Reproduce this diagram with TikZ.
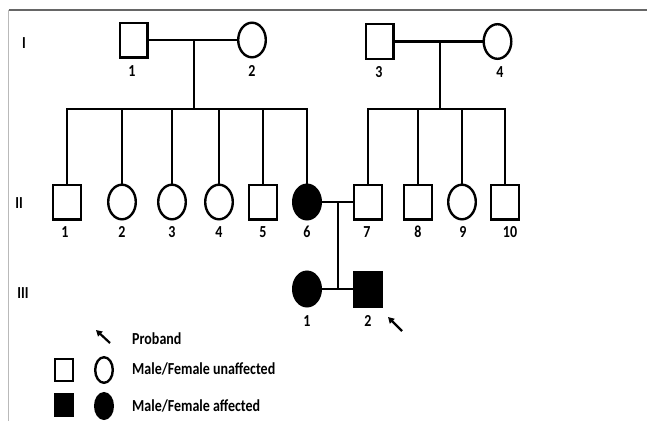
\documentclass[tikz,border=0pt]{standalone}
\usepackage{fontspec}
\setmainfont{Carlito}
\usetikzlibrary{arrows.meta, shapes.geometric}

\newcommand{\tallbox}[1]{\scalebox{1}[1.2]{#1}}

\tikzset{
    person/.style = {draw, line width=2.4pt, inner sep=0pt, minimum width=27.6pt, minimum height=34.6pt},
    male/.style = {person, rectangle},
    female/.style = {person, ellipse},
    affected/.style = {fill=black},
    key/.style = {minimum width=17.6pt, minimum height=21.6pt},
    tag/.style = {font=\bfseries\fontsize{14}{16}\selectfont, inner sep=0pt},
    line/.style = {draw, line width=2.2pt},
    pointer/.style = {line width=2.2pt, -{Triangle[length=6pt,width=6.5pt]}},
}

\begin{document}
\begin{tikzpicture}[x=1pt, y=-1pt]
    \useasboundingbox (0,0) rectangle (647,421);
    \draw[gray!55, line width=1.5pt] (8.5,421) -- (8.5,10);
    \draw[gray!80!black, line width=1.5pt] (8.5,10) -- (647,10);

    % generation labels
    \node[tag] (gI) at (24,43) {\tallbox{I}};
    \node[tag] (gII) at (19,203) {\tallbox{II}};
    \node[tag] (gIII) at (23,293) {\tallbox{III}};

    % generation I
    \node[male] (I1) at (133.5,40) {};
    \node[female] (I2) at (252,40) {};
    \node[male] (I3) at (379.5,41.5) {};
    \node[female] (I4) at (497.5,41.5) {};
    \node[tag] (nI1) at (132,71) {\tallbox{1}};
    \node[tag] (nI2) at (252,71) {\tallbox{2}};
    \node[tag] (nI3) at (379,72) {\tallbox{3}};
    \node[tag] (nI4) at (500,72) {\tallbox{4}};

    % generation II
    \node[male] (II1) at (67,202) {};
    \node[female] (II2) at (122,202) {};
    \node[female] (II3) at (172,202) {};
    \node[female] (II4) at (219,202) {};
    \node[male] (II5) at (263,202) {};
    \node[female, affected] (II6) at (307,202) {};
    \node[male] (II7) at (368,202) {};
    \node[male] (II8) at (418,202) {};
    \node[female] (II9) at (462,202) {};
    \node[male] (II10) at (505,202) {};
    \node[tag] (nII1) at (65,232) {\tallbox{1}};
    \node[tag] (nII2) at (122,232) {\tallbox{2}};
    \node[tag] (nII3) at (172,232) {\tallbox{3}};
    \node[tag] (nII4) at (219,232) {\tallbox{4}};
    \node[tag] (nII5) at (263,232) {\tallbox{5}};
    \node[tag] (nII6) at (307,232) {\tallbox{6}};
    \node[tag] (nII7) at (367,232) {\tallbox{7}};
    \node[tag] (nII8) at (418,232) {\tallbox{8}};
    \node[tag] (nII9) at (463,232) {\tallbox{9}};
    \node[tag] (nII10) at (510,232) {\tallbox{10}};

    % generation III
    \node[female, affected] (III1) at (307,289) {};
    \node[male, affected] (III2) at (368,289) {};
    \node[tag] (nIII1) at (307,321) {\tallbox{1}};
    \node[tag] (nIII2) at (368,321) {\tallbox{2}};

    % marriages and descent
    \coordinate (m1) at (194,40);
    \coordinate (s1) at (194,109);
    \coordinate (m2) at (440,41.5);
    \coordinate (s2) at (440,109);
    \coordinate (m3) at (338,202);
    \coordinate (s3) at (338,289);

    \draw[line] (I1) -- (I2);
    \draw[line] (m1) -- (s1);
    \draw[line] (II1.north) |- (s1) -| (II6.north);
    \draw[line] (II2.north) -- (II2.north |- s1);
    \draw[line] (II3.north) -- (II3.north |- s1);
    \draw[line] (II4.north) -- (II4.north |- s1);
    \draw[line] (II5.north) -- (II5.north |- s1);

    \draw[line] (I3) -- (I4);
    \draw[line] (m2) -- (s2);
    \draw[line] (II7.north) |- (s2) -| (II10.north);
    \draw[line] (II8.north) -- (II8.north |- s2);
    \draw[line] (II9.north) -- (II9.north |- s2);

    \draw[line] (II6) -- (II7);
    \draw[line] (m3) -- (s3);
    \draw[line] (III1) -- (III2);

    % proband
    \coordinate (pa1) at (402,331);
    \coordinate (pa2) at (388,317);
    \draw[pointer] (pa1) -- (pa2);

    % legend
    \coordinate (ka1) at (110,343);
    \coordinate (ka2) at (96,330);
    \draw[pointer] (ka1) -- (ka2);
    \node[tag, anchor=west] (kproband) at (132,339) {\tallbox{Proband}};
    \node[male, key] (kmale) at (64,370) {};
    \node[female, key, minimum height=25.6pt] (kfemale) at (104,370) {};
    \node[tag, anchor=west] (kunaff) at (132,369) {\tallbox{Male/Female unaffected}};
    \node[male, key, affected] (kmaleaff) at (64,405) {};
    \node[female, key, affected, minimum height=25.6pt] (kfemaleaff) at (104,406) {};
    \node[tag, anchor=west] (kaff) at (132,406) {\tallbox{Male/Female affected}};
\end{tikzpicture}
\end{document}
